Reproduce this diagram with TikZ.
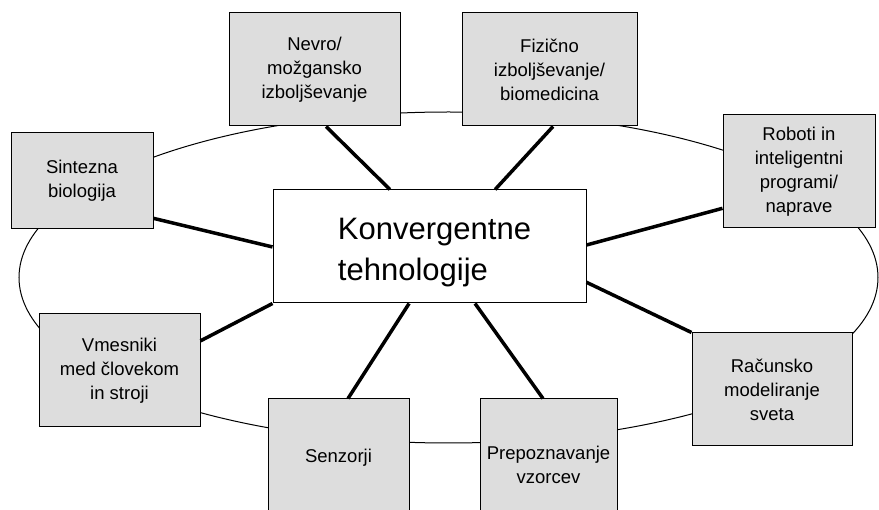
\documentclass[tikz,border=0pt]{standalone}
\usepackage{fontspec}
\setmainfont{Liberation Sans}
\usetikzlibrary{calc}
\definecolor{boxgray}{RGB}{221,221,221}
\tikzset{
  box/.style={draw=black, line width=1pt, fill=boxgray, inner sep=0pt, align=center,
    font=\fontsize{18.5}{24}\selectfont},
  core/.style={draw=black, line width=1pt, fill=white, inner sep=0pt, align=left,
    minimum width=313pt, minimum height=113pt, font=\fontsize{31}{41}\selectfont},
  link/.style={line width=3.5pt},
  ring/.style={line width=1pt}
}
\begin{document}
\begin{tikzpicture}[x=1pt,y=-1pt]
\useasboundingbox (0,0) rectangle (879,510);
\draw[ring] (448.5,277.5) ellipse [x radius=429.5pt, y radius=165.5pt];

\node[core] (c) at (429.5,246.5) {\rule{0pt}{34pt}\hspace*{10pt}Konvergentne\\\hspace*{10pt}tehnologije};

\node[box, minimum width=171pt, minimum height=113pt] (nev) at (314.5,69.5) {Nevro/\\možgansko\\izboljševanje};
\node[box, minimum width=175pt, minimum height=113pt] (fiz) at (549.5,69.5) {Fizično\\izboljševanje/\\biomedicina};
\node[box, minimum width=152pt, minimum height=113pt] (rob) at (799,171.5) {Roboti in\\inteligentni\\programi/\\naprave};
\node[box, minimum width=142pt, minimum height=96pt] (sin) at (82,181) {Sintezna\\biologija};
\node[box, minimum width=161pt, minimum height=113pt] (vme) at (119.5,370.5) {Vmesniki\\med človekom\\in stroji};
\node[box, minimum width=141pt, minimum height=118pt] (sen) at (338.5,458) {Senzorji};
\node[box, minimum width=137pt, minimum height=131pt] (pre) at (548.5,464.5) {Prepoznavanje\\vzorcev};
\node[box, minimum width=160pt, minimum height=113pt] (rac) at (772,389.5) {Računsko\\modeliranje\\sveta};

\draw[link] ($(nev.south west)!0.567!(nev.south east)$) -- ($(c.north west)!0.374!(c.north east)$);
\draw[link] ($(fiz.south west)!0.52!(fiz.south east)$) -- ($(c.north west)!0.709!(c.north east)$);
\draw[link] ($(rob.north west)!0.823!(rob.south west)$) -- ($(c.north east)!0.487!(c.south east)$);
\draw[link] ($(sin.north east)!0.885!(sin.south east)$) -- ($(c.north west)!0.504!(c.south west)$);
\draw[link] ($(vme.north east)!0.24!(vme.south east)$) -- (c.south west);
\draw[link] ($(sen.north west)!0.567!(sen.north east)$) -- ($(c.south west)!0.435!(c.south east)$);
\draw[link] ($(pre.north west)!0.46!(pre.north east)$) -- ($(c.south west)!0.645!(c.south east)$);
\draw[link] (rac.north west) -- ($(c.north east)!0.814!(c.south east)$);
\end{tikzpicture}
\end{document}
